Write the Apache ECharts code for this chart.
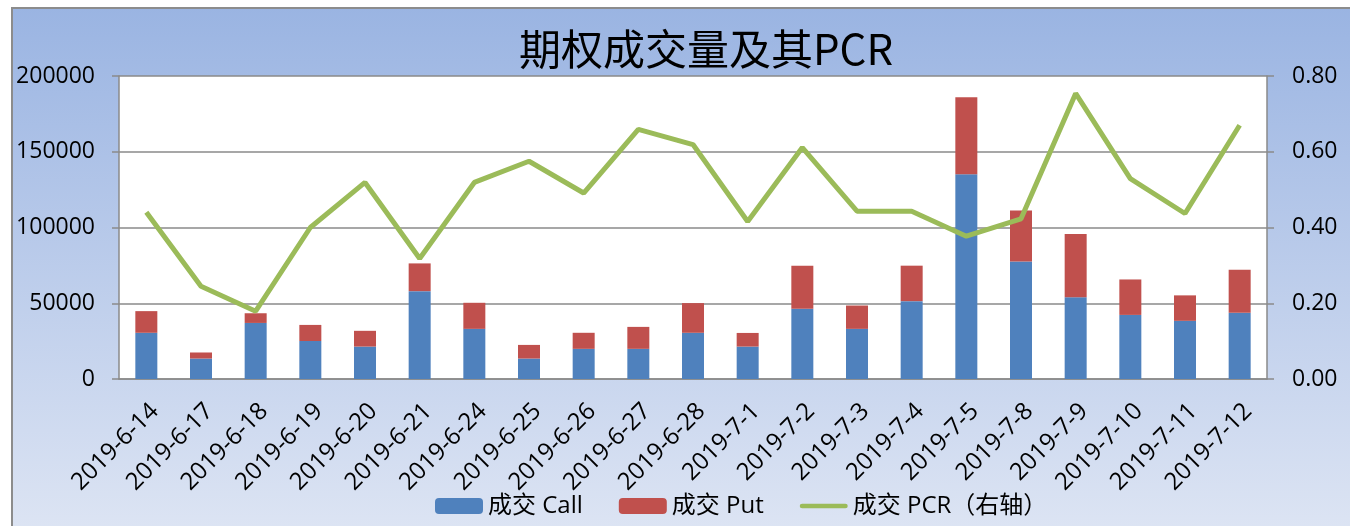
<!DOCTYPE html>
<html>
<head>
<meta charset="utf-8">
<title>期权成交量及其PCR</title>
<script src="https://cdn.jsdelivr.net/npm/echarts@6/dist/echarts.min.js"></script>
<style>
  html, body { margin: 0; padding: 0; background: #fff; }
  #main { width: 1350px; height: 526px; }
</style>
</head>
<body>
<div id="main"></div>
<script>
// 日期
var dates = ['2019-6-14', '2019-6-17', '2019-6-18', '2019-6-19', '2019-6-20', '2019-6-21', '2019-6-24',
  '2019-6-25', '2019-6-26', '2019-6-27', '2019-6-28', '2019-7-1', '2019-7-2', '2019-7-3', '2019-7-4',
  '2019-7-5', '2019-7-8', '2019-7-9', '2019-7-10', '2019-7-11', '2019-7-12']
// 成交 Call
var callVol = [30500, 13500, 37000, 25100, 21400, 58000, 33100, 13500, 19900, 19900, 30500,
  21400, 46300, 33100, 51400, 135200, 77600, 54000, 42300, 38400, 43700]
// 成交 Put
var putVol = [14300, 4000, 6400, 10600, 10400, 18300, 17200, 9000, 10600, 14500, 19600,
  9000, 28400, 15400, 23400, 50700, 33700, 41700, 23400, 16800, 28400]
// 成交 PCR（右轴）
var pcr = [0.44, 0.245, 0.179, 0.40, 0.519, 0.318, 0.519, 0.575, 0.491, 0.659, 0.619,
  0.416, 0.611, 0.443, 0.443, 0.377, 0.423, 0.754, 0.529, 0.437, 0.670]

var font = 'Open Sans, Noto Sans CJK SC, sans-serif'
var gridColor = '#8a8a8a'
// 图例里的线条（细长条）
var lineIcon = 'path://M0,0 L0.01,0 M0,16 L0.01,16 M1,5.5 L47,5.5 A2.5,2.5 0 0 1 47,10.5 L1,10.5 A2.5,2.5 0 0 1 1,5.5 Z'

var chart = echarts.init(document.getElementById('main'))
var option = {
  animation: false,
  graphic: {
    elements: [{
      type: 'rect',
      z: -10,
      silent: true,
      shape: { x: 12, y: 8, width: 1360, height: 540 },
      style: {
        fill: new echarts.graphic.LinearGradient(0, 0, 0, 1, [
          { offset: 0, color: '#9ab4e2' },
          { offset: 1, color: '#dfe6f4' }
        ]),
        stroke: '#8c8c8c',
        lineWidth: 2
      }
    }]
  },
  title: {
    text: '期权成交量及其PCR',
    left: 519,
    top: 28,
    padding: 0,
    textStyle: {
      fontFamily: 'Noto Sans CJK SC, sans-serif',
      fontSize: 42,
      fontWeight: 'normal',
      color: '#000'
    }
  },
  legend: {
    top: 494,
    left: 435,
    padding: 0,
    itemWidth: 48,
    itemHeight: 16,
    itemGap: 36,
    textStyle: { fontFamily: font, fontSize: 24, color: '#000' },
    data: ['成交 Call', '成交 Put', { name: '成交 PCR（右轴）', icon: lineIcon }]
  },
  grid: {
    left: 119,
    right: 83,
    top: 76,
    bottom: 147,
    show: true,
    backgroundColor: '#fff',
    borderWidth: 0
  },
  xAxis: {
    type: 'category',
    data: dates,
    axisLine: { lineStyle: { color: gridColor, width: 1.5 } },
    axisTick: { length: 6, lineStyle: { color: gridColor, width: 1.5 } },
    axisLabel: {
      rotate: 45,
      interval: 0,
      margin: 20,
      verticalAlign: 'top',
      fontFamily: font,
      fontSize: 24,
      color: '#000'
    }
  },
  yAxis: [{
    type: 'value',
    min: 0,
    max: 200000,
    interval: 50000,
    axisLine: { show: true, lineStyle: { color: gridColor, width: 1.5 } },
    axisTick: { show: true, length: 7, lineStyle: { color: gridColor, width: 1.5 } },
    splitLine: { lineStyle: { color: gridColor, width: 1.5 } },
    axisLabel: {
      margin: 24,
      fontFamily: font,
      fontSize: 23,
      color: '#000',
      formatter: function (v) { return String(v) }
    }
  }, {
    type: 'value',
    min: 0,
    max: 0.8,
    interval: 0.2,
    axisLine: { show: true, lineStyle: { color: gridColor, width: 1.5 } },
    axisTick: { show: true, length: 7, lineStyle: { color: gridColor, width: 1.5 } },
    splitLine: { show: false },
    axisLabel: {
      margin: 25,
      fontFamily: font,
      fontSize: 23,
      color: '#000',
      formatter: function (v) { return v.toFixed(2) }
    }
  }],
  series: [{
    name: '成交 Call',
    type: 'bar',
    stack: 'vol',
    barWidth: 22,
    itemStyle: { color: '#4f81bd' },
    data: callVol
  }, {
    name: '成交 Put',
    type: 'bar',
    stack: 'vol',
    barWidth: 22,
    itemStyle: { color: '#c0504d' },
    data: putVol
  }, {
    name: '成交 PCR（右轴）',
    type: 'line',
    yAxisIndex: 1,
    symbol: 'none',
    z: 5,
    lineStyle: { color: '#9bbb59', width: 5 },
    itemStyle: { color: '#9bbb59' },
    data: pcr
  }]
}
chart.setOption(option)
</script>
</body>
</html>
